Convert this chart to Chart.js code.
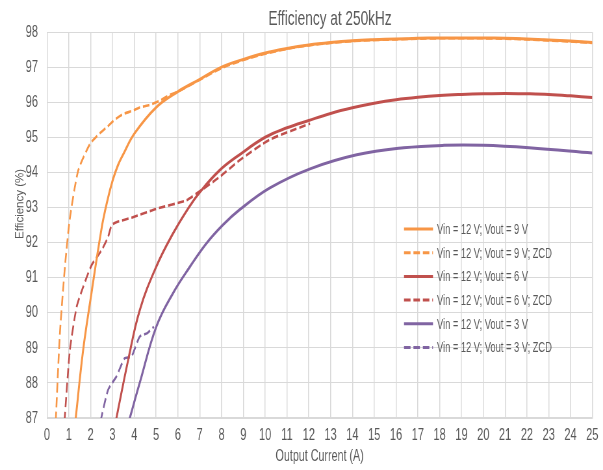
<!DOCTYPE html>
<html>
<head>
<meta charset="utf-8">
<title>Efficiency at 250kHz</title>
<script src="https://cdn.jsdelivr.net/npm/chart.js@4/dist/chart.umd.min.js"></script>
<style>
  html, body { margin: 0; padding: 0; background: #fff; }
  #wrap { width: 603px; height: 470px; overflow: hidden; }
  /* the original picture is squeezed sideways, so the canvas is drawn wide and squeezed */
  #effChart { transform: scaleX(0.6498); transform-origin: 0 0; }
</style>
</head>
<body>
<div id="wrap"><canvas id="effChart" width="928" height="470"></canvas></div>
<script>
// Data (output current in A, efficiency in %)

// Vin = 12 V; Vout = 9 V
const current9 = [1.3, 1.65, 2.0, 2.5, 2.75, 3.0, 3.25, 3.5, 4.0, 5.0, 6.0, 7.0, 8.0, 9.0, 10, 11, 12, 13, 14, 15, 16, 17, 18, 19, 20, 21, 22, 23, 24, 25];
const eff9 = [86.9, 88.9, 90.4, 92.4, 93.15, 93.75, 94.2, 94.52, 95.1, 95.85, 96.3, 96.65, 97.0, 97.22, 97.4, 97.53, 97.63, 97.7, 97.75, 97.78, 97.8, 97.82, 97.83, 97.83, 97.83, 97.82, 97.8, 97.77, 97.74, 97.7];

// Vin = 12 V; Vout = 9 V; ZCD
const current9zcd = [0.4, 0.59, 0.82, 1.05, 1.43, 1.97, 2.4, 2.73, 3.1, 3.49, 3.9, 4.25, 4.7, 5.16, 5.6, 6, 7, 8, 9, 10, 11, 12, 13, 14, 15, 16, 17, 18, 19, 20, 21, 22, 23, 24, 25];
const eff9zcd = [86.9, 89.4, 91.3, 92.7, 94.05, 94.81, 95.1, 95.28, 95.5, 95.66, 95.75, 95.85, 95.92, 96.04, 96.2, 96.3, 96.64, 96.97, 97.2, 97.38, 97.52, 97.62, 97.69, 97.74, 97.77, 97.79, 97.81, 97.82, 97.82, 97.82, 97.81, 97.79, 97.76, 97.73, 97.69];

// Vin = 12 V; Vout = 6 V
const current6 = [3.15, 3.72, 4.25, 5.0, 5.77, 6.5, 7.0, 7.9, 8.82, 10, 11, 12, 13, 14, 15, 16, 17, 18, 19, 20, 21, 22, 23, 24, 25];
const eff6 = [86.9, 88.65, 90.07, 91.3, 92.25, 93.0, 93.43, 94.05, 94.5, 95.0, 95.27, 95.48, 95.68, 95.84, 95.97, 96.07, 96.14, 96.19, 96.22, 96.24, 96.25, 96.24, 96.22, 96.18, 96.13];

// Vin = 12 V; Vout = 6 V; ZCD
const current6zcd = [0.8, 1.05, 1.36, 1.66, 2.04, 2.5, 2.8, 2.96, 3.18, 3.94, 5.01, 6.38, 6.84, 7.9, 8.82, 10.2, 12.06];
const eff6zcd = [86.9, 88.94, 90.17, 90.74, 91.35, 91.78, 92.16, 92.49, 92.58, 92.72, 92.96, 93.2, 93.39, 93.86, 94.34, 94.93, 95.39];

// Vin = 12 V; Vout = 3 V
const current3 = [3.75, 4.25, 5.01, 5.77, 6.54, 7.3, 8.06, 8.82, 10.2, 12.06, 14.2, 16.35, 18.2, 20, 22.1, 25];
const eff3 = [86.9, 88.0, 89.6, 90.55, 91.3, 91.97, 92.5, 92.93, 93.55, 94.1, 94.5, 94.7, 94.77, 94.77, 94.7, 94.55];

// Vin = 12 V; Vout = 3 V; ZCD
const current3zcd = [2.45, 2.8, 3.18, 3.56, 3.87, 4.25, 4.6, 4.9];
const eff3zcd = [86.9, 87.8, 88.18, 88.7, 88.75, 89.32, 89.42, 89.6];

const seriesLabels = [
  'Vin = 12 V; Vout = 9 V',
  'Vin = 12 V; Vout = 9 V; ZCD',
  'Vin = 12 V; Vout = 6 V',
  'Vin = 12 V; Vout = 6 V; ZCD',
  'Vin = 12 V; Vout = 3 V',
  'Vin = 12 V; Vout = 3 V; ZCD'
];

const SQUEEZE = 0.6498; // must match the CSS scaleX
const ORANGE = '#F79646';
const RED = '#C0504D';
const PURPLE = '#8064A2';
const TEXT = '#595959';
const GRID = '#D9D9D9';
const FONT = "'Liberation Sans', Arial, sans-serif";

function toPoints(xs, ys) {
  return xs.map((x, i) => ({ x: x, y: ys[i] }));
}

function makeSeries(label, xs, ys, color, dashed) {
  return {
    label: label,
    data: toPoints(xs, ys),
    borderColor: color,
    backgroundColor: color,
    borderWidth: dashed ? 2.6 : 3,
    borderDash: dashed ? [10, 4.5] : [],
    pointRadius: 0,
    fill: false,
    tension: dashed ? 0.2 : 0.4,
    clip: 0
  };
}

/**
 * Title, y axis title and legend, drawn the way Excel placed them
 */
const excelDecor = {
  id: 'excelDecor',
  afterDraw(chart) {
    const ctx = chart.ctx;
    const yScale = chart.scales.y;

    ctx.save();
    ctx.fillStyle = TEXT;

    // chart title
    ctx.font = '21px ' + FONT;
    ctx.textAlign = 'center';
    ctx.textBaseline = 'alphabetic';
    ctx.fillText('Efficiency at 250kHz', 330 / SQUEEZE, 25);

    // y axis title, kept unsqueezed like in the picture
    ctx.save();
    ctx.translate(20 / SQUEEZE, yScale.getPixelForValue(93.1));
    ctx.scale(1 / SQUEEZE, 1);
    ctx.rotate(-Math.PI / 2);
    ctx.font = '11.5px ' + FONT;
    ctx.textAlign = 'center';
    ctx.textBaseline = 'middle';
    ctx.fillText('Efficiency (%)', 0, 0);
    ctx.restore();

    // legend inside the plot area
    const lineX = 404 / SQUEEZE;
    const lineLen = 29 / SQUEEZE;
    const top = 229;
    const step = 23.7;
    ctx.font = '14.3px ' + FONT;
    ctx.textBaseline = 'middle';
    ctx.textAlign = 'left';
    chart.data.datasets.forEach((ds, i) => {
      const y = top + i * step;
      ctx.strokeStyle = ds.borderColor;
      ctx.lineWidth = 3;
      ctx.setLineDash(ds.borderDash);
      ctx.beginPath();
      ctx.moveTo(lineX, y);
      ctx.lineTo(lineX + lineLen, y);
      ctx.stroke();
      ctx.setLineDash([]);
      ctx.fillStyle = TEXT;
      ctx.fillText(ds.label, 437 / SQUEEZE, y + 1);
    });
    ctx.restore();
  }
};

const ctx = document.getElementById('effChart').getContext('2d');

window.effChart = new Chart(ctx, {
  type: 'line',
  data: {
    datasets: [
      makeSeries(seriesLabels[0], current9, eff9, ORANGE, false),
      makeSeries(seriesLabels[1], current9zcd, eff9zcd, ORANGE, true),
      makeSeries(seriesLabels[2], current6, eff6, RED, false),
      makeSeries(seriesLabels[3], current6zcd, eff6zcd, RED, true),
      makeSeries(seriesLabels[4], current3, eff3, PURPLE, false),
      makeSeries(seriesLabels[5], current3zcd, eff3zcd, PURPLE, true)
    ]
  },
  options: {
    responsive: false,
    animation: false,
    devicePixelRatio: 1,
    layout: {
      padding: { top: 32, right: 14, bottom: 0, left: 0 }
    },
    plugins: {
      legend: { display: false },
      tooltip: { enabled: false },
      title: { display: false }
    },
    scales: {
      x: {
        type: 'linear',
        min: 0,
        max: 25,
        afterFit(scale) { scale.height = 52; },
        ticks: {
          stepSize: 1,
          color: TEXT,
          font: { family: FONT, size: 17 },
          padding: 7
        },
        grid: { color: GRID, lineWidth: 1.5, tickLength: 0 },
        border: { color: GRID, width: 1.5 },
        title: {
          display: true,
          text: 'Output Current (A)',
          color: TEXT,
          font: { family: FONT, size: 16.5 },
          padding: { top: 0, bottom: 4 }
        }
      },
      y: {
        min: 87,
        max: 98,
        afterFit(scale) { scale.width = 47 / SQUEEZE; },
        ticks: {
          stepSize: 1,
          color: TEXT,
          font: { family: FONT, size: 17 },
          padding: 14
        },
        grid: { color: GRID, lineWidth: 1, tickLength: 0 },
        border: { color: GRID }
      }
    }
  },
  plugins: [excelDecor]
});
</script>
</body>
</html>
